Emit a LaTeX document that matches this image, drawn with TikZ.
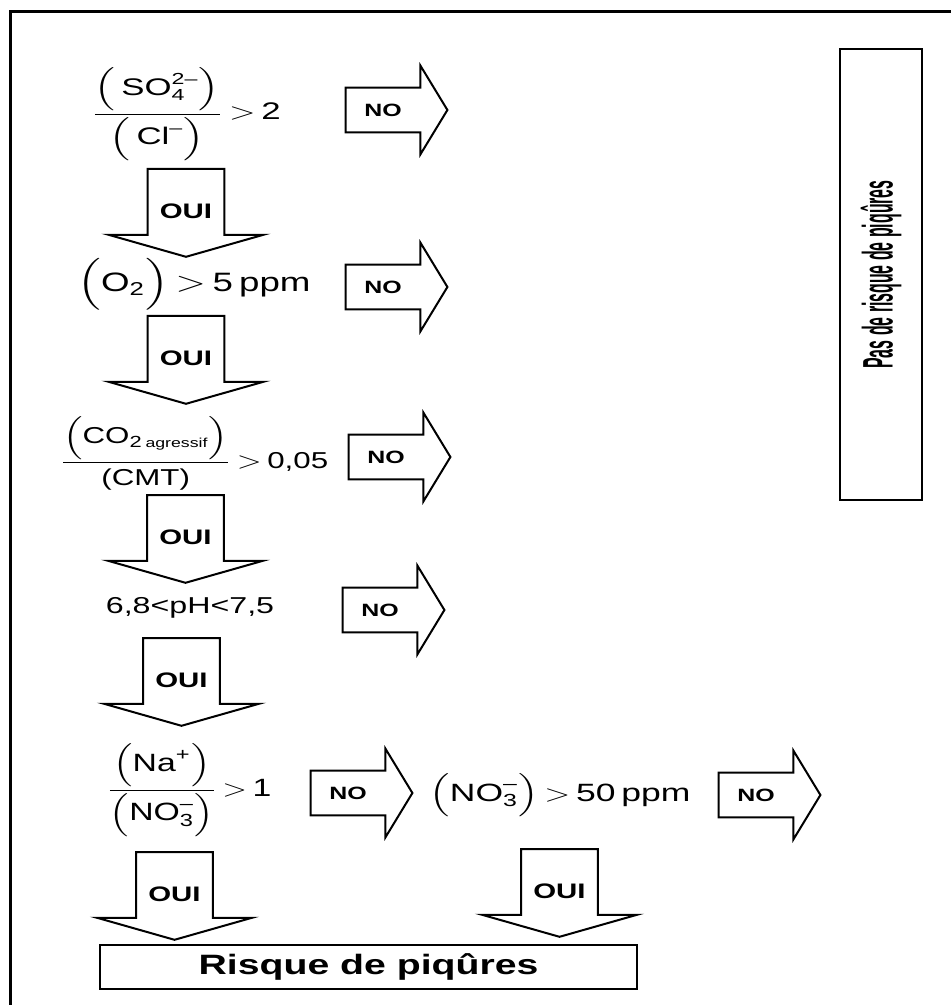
\documentclass[tikz,border=0pt]{standalone}
\usepackage{amsmath}
\usepackage{fontspec}
\setmainfont{Liberation Sans}
\newfontfamily\narrowfont[FakeStretch=0.82]{Liberation Sans}
\usetikzlibrary{calc}

\newcommand{\wide}[2][1.4]{\scalebox{#1}[1]{#2}}

\tikzset{
  block/.style={draw, line width=1pt, line join=miter},
  noshaft/.style={minimum width=37pt, minimum height=22pt, inner sep=0pt,
    font=\bfseries\fontsize{8.9}{10}\selectfont},
  ouishaft/.style={minimum width=38pt, minimum height=32.5pt, inner sep=0pt},
  ouitext/.style={inner sep=0pt, font=\bfseries\fontsize{10.5}{12}\selectfont},
  cond/.style={inner sep=0pt, execute at begin node={\thickmuskip=3mu}},
  result/.style={draw, line width=1.4pt, inner sep=0pt},
  frame/.style={line width=1.5pt},
}

\begin{document}
\begin{tikzpicture}[x=0.5pt, y=-0.5pt]

  \useasboundingbox (0,0) rectangle (951,1005);

  %% Frame (cut at right and bottom)
  \draw[frame] (10,1005) -- (10,12) -- (951,12);

  %% Conditions
  \node[cond, font=\fontsize{12}{14}\selectfont] (c1) at (186,114)
    {\wide[1.45]{$\dfrac{\Bigl(\;\text{SO}_{\text{4}}^{\text{2–}}\Bigr)}{\Bigl(\,\text{Cl}^{\text{–}}\Bigr)}>\text{2}$}};
  \node[cond, font=\fontsize{13.3}{15}\selectfont] (c2) at (194,284)
    {\wide[1.38]{$\Bigl(\text{O}_{\text{2}}\Bigr)>\text{5\,ppm}$}};
  \node[cond, font=\fontsize{11.5}{14}\selectfont] (c3) at (194,453)
    {\wide[1.36]{$\dfrac{\Bigl(\text{CO}_{\text{2}\,\mbox{\fontsize{6.5}{7}\selectfont agressif}}\Bigr)}{\text{(CMT)}}>\text{0,05}$}};
  \node[cond, font=\fontsize{11.5}{14}\selectfont] (c4) at (190,608)
    {\wide{6,8<pH<7,5}};
  \node[cond, font=\fontsize{12.5}{15}\selectfont] (c5) at (189,790)
    {\wide[1.35]{$\dfrac{\Bigl(\text{Na}^{\text{+}}\Bigr)}{\Bigl(\text{NO}_{\text{3}}^{\text{–}}\Bigr)}>\text{1}$}};
  \node[cond, font=\fontsize{12.5}{15}\selectfont] (c6) at (560,795)
    {\wide[1.42]{$\Bigl(\text{NO}_{\text{3}}^{\text{–}}\Bigr)>\text{50\,ppm}$}};

  %% NO arrows
  \foreach \n/\x/\y in {1/383/110, 2/383/287, 3/386/457, 4/380/610, 5/348/793, 6/756/795}{
    \node[noshaft] (no\n) at (\x,\y) {\wide{NO}};
    \draw[block] (no\n.north west) -- (no\n.north east) -- ++(0,-22)
      -- ($(no\n.east)+(27,0)$) -- ($(no\n.south east)+(0,22)$)
      -- (no\n.south east) -- (no\n.south west) -- cycle;
  }

  %% OUI arrows
  \foreach \n/\x/\y in {1/186/169, 2/186/316, 3/185.5/495, 4/181.5/638, 5/174.5/852, 6/559.5/849}{
    \node[ouishaft, anchor=north] (oui\n) at (\x,\y) {};
    \draw[block] (oui\n.north west) -- (oui\n.south west) -- ++(-39,0)
      -- ($(oui\n.south)+(0,22)$) -- ($(oui\n.south east)+(39,0)$)
      -- (oui\n.south east) -- (oui\n.north east) -- cycle;
    \node[ouitext] (ouitxt\n) at ($(oui\n.center)+(0,9)$) {\wide{OUI}};
  }

  %% Outcomes
  \node[result, minimum width=268.5pt, minimum height=22pt,
    font=\bfseries\fontsize{14}{16}\selectfont] (risk) at (368.5,967)
    {\wide{Risque de piqûres}};
  \node[result, minimum width=41pt, minimum height=225.5pt,
    font=\narrowfont\bfseries\fontsize{9.7}{11}\selectfont] (norisk) at (881,274.5)
    {\wide[2.2]{\rotatebox{90}{Pas de risque de piqûres}}};

\end{tikzpicture}
\end{document}
